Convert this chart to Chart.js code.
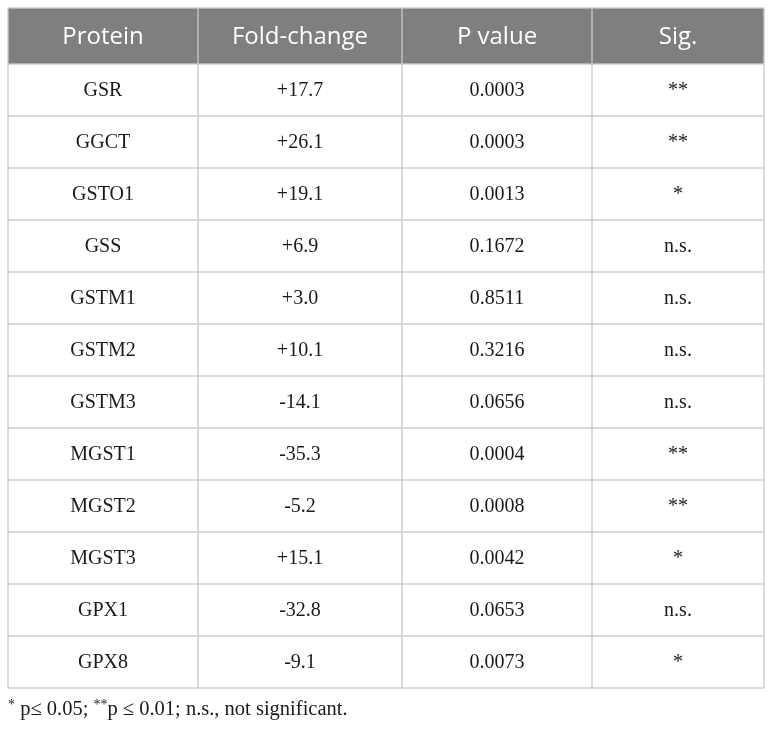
<html>
<head>
  <script src="https://cdn.jsdelivr.net/npm/chart.js"></script>
  <style>
    body { margin: 0; background: #fff; }
  </style>
</head>
<body>
  <canvas id="myChart" width="772" height="729"></canvas>
  <script>
    // table content
    var headers = ['Protein', 'Fold-change', 'P value', 'Sig.'];
    var proteins = ['GSR', 'GGCT', 'GSTO1', 'GSS', 'GSTM1', 'GSTM2', 'GSTM3', 'MGST1', 'MGST2', 'MGST3', 'GPX1', 'GPX8'];
    var foldChange = [17.7, 26.1, 19.1, 6.9, 3.0, 10.1, -14.1, -35.3, -5.2, 15.1, -32.8, -9.1];
    var pValues = [0.0003, 0.0003, 0.0013, 0.1672, 0.8511, 0.3216, 0.0656, 0.0004, 0.0008, 0.0042, 0.0653, 0.0073];
    var sig = ['**', '**', '*', 'n.s.', 'n.s.', 'n.s.', 'n.s.', '**', '**', '*', 'n.s.', '*'];
    var footnote = [['*', true], [' p\u2264 0.05; ', false], ['**', true], ['p \u2264 0.01; n.s., not significant.', false]];

    // layout (x units = px inside chart area)
    var colEdges = [0, 190, 394, 584, 756];
    var headerRows = 56 / 52;

    var fmtFold = v => (v > 0 ? '+' : '') + v.toFixed(1);
    var fmtP = v => v.toFixed(4);

    var columns = [
      proteins,
      foldChange.map(fmtFold),
      pValues.map(fmtP),
      sig
    ];

    var centers = colEdges.slice(0, -1).map((e, i) => (e + colEdges[i + 1]) / 2);

    var datasets = columns.map((col, c) => ({
      label: headers[c],
      data: col.map((t, r) => ({ x: centers[c], y: r + 0.5, text: t })),
      pointRadius: 0,
      pointHoverRadius: 0
    }));

    var tablePlugin = {
      id: 'table',
      beforeDraw(chart) {
        var ctx = chart.ctx, xs = chart.scales.x, ys = chart.scales.y;
        var top = ys.getPixelForValue(-headerRows), hb = ys.getPixelForValue(0);
        ctx.save();
        ctx.fillStyle = '#7f7f7f';
        ctx.fillRect(xs.left, top, xs.right - xs.left, hb - top);
        ctx.restore();
      },
      afterDatasetsDraw(chart) {
        var ctx = chart.ctx, xs = chart.scales.x, ys = chart.scales.y;
        var top = ys.getPixelForValue(-headerRows), bottom = ys.getPixelForValue(proteins.length);
        ctx.save();
        // grid
        ctx.strokeStyle = 'rgba(200,200,200,0.9)';
        ctx.lineWidth = 1.5;
        colEdges.forEach(e => {
          var px = xs.getPixelForValue(e);
          ctx.beginPath(); ctx.moveTo(px, top); ctx.lineTo(px, bottom); ctx.stroke();
        });
        ctx.beginPath(); ctx.moveTo(xs.left, top); ctx.lineTo(xs.right, top); ctx.stroke();
        for (var r = 0; r <= proteins.length; r++) {
          var py = ys.getPixelForValue(r);
          ctx.beginPath(); ctx.moveTo(xs.left, py); ctx.lineTo(xs.right, py); ctx.stroke();
        }
        // header text
        ctx.fillStyle = '#ffffff';
        ctx.font = '24px "Open Sans"';
        ctx.textAlign = 'center';
        ctx.textBaseline = 'middle';
        headers.forEach((h, c) => {
          ctx.fillText(h, xs.getPixelForValue(centers[c]), ys.getPixelForValue(-headerRows / 2) + 1);
        });
        // body text from the point elements
        ctx.fillStyle = '#1a1a1a';
        ctx.font = '20px "Liberation Serif"';
        chart.data.datasets.forEach((ds, i) => {
          chart.getDatasetMeta(i).data.forEach((pt, j) => {
            ctx.fillText(ds.data[j].text, pt.x, pt.y + 1);
          });
        });
        // footnote
        var fx = xs.left, fy = bottom + 27;
        ctx.textAlign = 'left';
        ctx.textBaseline = 'alphabetic';
        footnote.forEach(seg => {
          ctx.font = seg[1] ? '14px "Liberation Serif"' : '20.5px "Liberation Serif"';
          ctx.fillText(seg[0], fx, seg[1] ? fy - 6 : fy);
          fx += ctx.measureText(seg[0]).width;
        });
        ctx.restore();
      }
    };

    var ctx = document.getElementById('myChart').getContext('2d');
    var grafica = new Chart(ctx, {
      type: 'scatter',
      data: { datasets: datasets },
      options: {
        responsive: false,
        animation: false,
        events: [],
        layout: { padding: { left: 8, top: 8, right: 8, bottom: 41 } },
        plugins: { legend: { display: false }, tooltip: { enabled: false } },
        scales: {
          x: { type: 'linear', display: false, min: 0, max: colEdges[colEdges.length - 1] },
          y: { type: 'linear', display: false, reverse: true, min: -headerRows, max: proteins.length }
        }
      },
      plugins: [tablePlugin]
    });
  </script>
</body>
</html>
